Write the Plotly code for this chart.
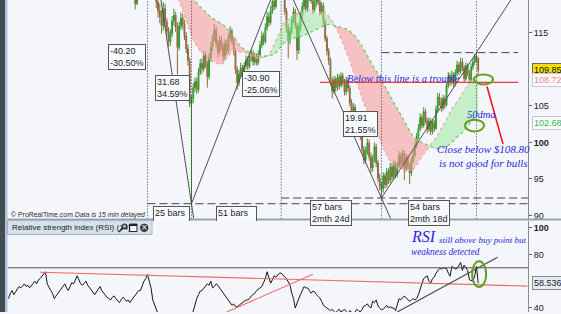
import pandas as pd
import plotly.graph_objects as go

# ---------------- data ----------------
FIRST_CLOSE_BAR = 20      # bar index of closes[0]
FIRST_CANDLE_BAR = 70     # bar index of highs[0] / lows[0]

closes = [
    126.5, 127.2, 128.0, 127.4, 126.8, 127.5, 126.2, 125.8, 126.6, 127.3,
    126.9, 126.1, 127.0, 127.8, 127.2, 126.4, 127.1, 128.0, 128.6, 127.9,
    127.3, 126.8, 127.5, 126.9, 126.2, 125.6, 126.3, 125.4, 124.8, 125.5,
    126.1, 125.3, 124.6, 124.0, 124.7, 123.9, 123.2, 123.8, 124.4, 123.6,
    122.9, 123.5, 122.8, 122.1, 122.7, 121.9, 121.4, 122.0, 121.3, 120.6,
    121.2, 120.4, 119.0, 122.5, 124.3, 125.9, 127.2, 128.8, 130.2, 131.0,
    129.0, 126.4, 123.5, 121.0, 119.2, 118.0, 117.2, 116.0, 118.3, 116.5,
    115.2, 113.8, 114.9, 116.6, 117.4, 115.8, 113.0, 115.9, 117.0, 116.2,
    114.6, 112.8, 111.2, 105.3, 106.0, 107.5, 108.3, 107.2, 109.6, 110.8,
    110.1, 111.9, 110.7, 109.0, 111.6, 113.0, 114.2, 115.4, 113.6, 112.4,
    114.0, 113.1, 111.8, 113.5, 112.6, 114.3, 115.2, 114.0, 112.5, 110.0,
    108.2, 109.4, 110.2, 108.9, 110.5, 111.3, 110.4, 111.6, 112.2, 111.0,
    111.8, 110.9, 112.0, 113.3, 114.6, 113.8, 115.7, 117.2, 116.4, 118.0,
    119.3, 118.6, 120.4, 121.5, 122.2, 121.8, 120.3, 118.0, 115.6, 113.9,
    115.2, 116.8, 117.9, 116.0, 112.6, 115.8, 117.4, 118.6, 119.5, 118.3,
    119.8, 120.6, 119.4, 118.2, 119.0, 120.1, 119.2, 117.9, 118.7, 116.5,
    114.2, 112.5, 111.2, 108.4, 107.0, 108.6, 107.5, 108.9, 107.8, 109.1,
    108.2, 106.9, 108.5, 107.4, 105.4, 104.0, 104.8, 102.6, 101.5, 102.2,
    100.8, 99.0, 97.6, 98.8, 99.9, 98.0, 96.5, 97.8, 99.4, 97.2,
    95.1, 94.0, 93.6, 95.4, 94.2, 96.0, 94.8, 96.6, 95.3, 97.0,
    95.6, 96.8, 98.2, 97.1, 98.5, 96.4, 97.9, 96.7, 95.8, 97.5,
    98.3, 99.6, 100.8, 101.9, 103.4, 102.3, 104.2, 103.0, 101.8, 102.9,
    101.5, 102.7, 101.9, 104.5, 106.2, 105.6, 104.7, 106.0, 105.1, 107.8,
    109.0, 108.2, 109.2, 108.0, 109.5, 110.6, 109.7, 111.0, 110.2, 108.7,
    110.5, 109.4, 108.6, 110.3, 111.0, 111.8, 111.5, 109.85,
]

highs = [
    122.0, 121.8, 120.9, 123.1, 124.9, 126.5, 127.9, 129.4, 130.8, 131.8,
    131.4, 129.6, 126.9, 124.0, 121.7, 120.1, 119.0, 118.1, 119.2, 119.0,
    117.0, 115.8, 115.5, 117.3, 118.3, 117.9, 116.4, 116.5, 117.8, 117.6,
    116.8, 115.1, 113.4, 111.6, 106.4, 108.1, 108.9, 108.8, 110.2, 111.4,
    111.5, 112.5, 112.3, 111.2, 112.2, 113.7, 114.8, 116.2, 115.8, 114.1,
    114.6, 114.5, 113.6, 114.1, 114.0, 114.9, 115.9, 115.6, 114.4, 112.9,
    110.4, 109.9, 110.9, 110.6, 111.0, 111.9, 111.8, 112.1, 112.8, 112.6,
    112.3, 112.2, 112.6, 113.9, 115.2, 115.0, 116.3, 117.9, 117.8, 118.7,
    119.9, 119.8, 120.9, 122.1, 122.9, 123.28, 122.3, 120.8, 118.4, 116.2,
    115.8, 117.3, 118.5, 118.3, 116.4, 116.3, 117.9, 119.2, 120.1, 119.9,
    120.3, 121.2, 121.0, 119.8, 119.6, 120.7, 120.5, 119.6, 119.2, 119.1,
    116.9, 114.6, 112.9, 111.6, 108.9, 109.1, 109.0, 109.4, 109.3, 109.6,
    109.5, 108.7, 109.0, 108.9, 107.8, 105.9, 105.4, 105.2, 103.1, 102.8,
    102.7, 101.3, 99.5, 99.4, 100.5, 100.4, 98.6, 98.3, 100.0, 99.8,
    97.6, 95.7, 94.6, 95.9, 95.8, 96.5, 96.4, 97.2, 97.1, 97.5,
    97.4, 97.3, 98.8, 98.6, 99.0, 98.9, 98.4, 98.3, 97.2, 98.0,
    98.9, 100.1, 101.3, 102.5, 104.0, 103.8, 104.8, 104.6, 103.4, 103.4,
    103.3, 103.2, 103.1, 105.0, 106.8, 106.7, 106.1, 106.5, 106.4, 108.3,
    109.6, 109.5, 109.8, 109.6, 110.0, 111.2, 111.0, 111.6, 111.5, 110.6,
    110.9, 110.8, 109.9, 110.8, 111.5, 112.1, 112.29, 111.7,
]

lows = [
    120.2, 119.9, 118.2, 118.8, 122.1, 123.8, 125.4, 126.8, 128.3, 129.7,
    128.4, 125.8, 122.9, 120.3, 118.4, 117.1, 116.3, 114.9, 115.3, 115.8,
    114.6, 113.1, 113.2, 114.4, 116.0, 115.1, 109.3, 112.6, 115.4, 115.5,
    114.0, 112.2, 110.5, 104.8, 91.6, 105.4, 106.9, 106.6, 106.8, 109.2,
    109.4, 109.7, 110.2, 107.5, 108.6, 111.1, 112.5, 113.8, 113.0, 111.6,
    111.9, 112.6, 111.1, 111.3, 112.0, 112.2, 113.8, 113.4, 111.9, 109.4,
    107.2, 107.7, 108.9, 108.3, 108.5, 110.0, 109.9, 110.1, 111.1, 110.5,
    110.6, 110.5, 110.6, 111.7, 112.9, 113.3, 113.5, 115.3, 115.9, 116.1,
    117.6, 118.1, 118.3, 120.0, 121.1, 121.2, 119.9, 117.5, 115.0, 111.5,
    113.4, 114.8, 116.3, 115.5, 111.3, 112.1, 115.2, 117.0, 118.1, 117.8,
    117.9, 119.3, 119.0, 117.6, 117.8, 118.6, 118.8, 117.4, 117.5, 115.9,
    113.8, 111.9, 110.6, 107.8, 106.0, 106.6, 106.9, 107.1, 107.2, 107.5,
    107.7, 106.4, 106.5, 106.9, 104.9, 103.3, 103.6, 102.0, 100.9, 101.0,
    100.3, 98.5, 97.0, 97.1, 98.3, 97.5, 95.8, 96.0, 97.3, 96.6,
    94.6, 93.4, 92.38, 93.1, 93.7, 93.8, 94.3, 94.4, 94.8, 95.0,
    95.1, 95.2, 96.4, 96.6, 96.8, 94.8, 96.0, 96.2, 94.3, 95.4,
    97.1, 97.9, 99.2, 100.4, 101.5, 101.9, 102.0, 102.6, 101.2, 101.4,
    101.0, 101.1, 101.4, 101.7, 104.1, 105.0, 104.2, 104.3, 104.6, 104.9,
    107.4, 107.7, 107.9, 107.5, 107.7, 109.1, 109.2, 109.4, 109.8, 108.2,
    108.4, 109.0, 108.3, 108.2, 109.9, 110.6, 110.9, 109.3,
]

# RSI(14), one value per bar starting at bar 0
rsi = [
    47, 51, 53, 50, 52, 54, 56, 55, 57, 58,
    56, 57, 55, 57, 59, 60, 58, 61, 62, 64,
    65, 67, 58, 55, 53, 51, 47, 49, 51, 53,
    55, 57, 58, 55, 53, 56, 59, 58, 61, 64,
    61, 58, 57, 59, 60, 57, 55, 53, 52, 50,
    52, 54, 56, 53, 51, 49, 48, 47, 46, 48,
    49, 47, 45, 44, 46, 48, 47, 45, 46, 44,
    46, 48, 49, 51, 53, 53, 57, 60, 62, 65,
    60, 55, 46, 42, 38.5, 34, 32, 30, 33, 31,
    29, 28, 30, 33, 34, 31, 27, 30, 32, 31,
    29, 27, 25, 21, 33, 38, 43, 47, 50, 52.6,
    53, 55, 56, 58, 57, 60, 55, 56, 58, 57,
    55, 53, 51, 49, 47, 45, 44, 42, 43, 41,
    41, 42, 43, 44, 45, 46, 46, 47, 49, 50,
    51, 53, 54, 55, 56, 59, 62, 67, 63, 58.5,
    61, 64, 63, 65, 66, 66, 64, 63, 62, 60,
    57, 51, 47, 40, 44, 47, 50, 53, 56, 55,
    55, 53, 51, 52.6, 52, 50, 49, 47.4, 45, 42,
    41, 40, 39, 38, 39, 37.5, 36, 38, 39, 37,
    38, 39, 37.5, 36, 38, 37, 35, 37, 39, 38,
    37, 39, 41.5, 42, 43, 41, 40, 45, 44, 46,
    41.5, 40, 38.5, 39, 41, 42, 40, 41, 40, 40,
    38, 42, 47, 46, 48, 49, 47.5, 46, 45, 46,
    47, 46, 47, 50, 55, 58, 62, 63, 64, 60,
    58.5, 62, 63, 66, 68, 69.5, 69, 70, 69.6, 69.5,
    66, 63.7, 71, 70, 69, 69.6, 72, 74, 68, 72,
    70, 68, 61, 60.5, 60, 64, 71, 58.536,
]

# swing pivots measured on the chart (bar, price)
pivot_bars = [79, 104, 155, 212, 266]
pivot_prices = [131.8, 91.6, 123.28, 92.38, 112.29]
swing_changes = ["-40.20<br>-30.50%", "31.68<br>34.59%", "-30.90<br>-25.06%", "19.91<br>21.55%"]
swing_lengths = ["25 bars<br>1mth 4d", "51 bars<br>2mth 11d", "57 bars<br>2mth 24d", "54 bars<br>2mth 18d"]

trouble_level = 108.2
last_close = 109.85
ma20_last = 108.72
ma50_last = 102.68
rsi_last = 58.536
rsi_overbought = 70

# hand-drawn RSI trend lines (bar, value)
rsi_falling_line = ([18, 295], [66.7, 56.3])
rsi_short_line = ([124, 173], [37.0, 65.2])
rsi_rising_line = ([221, 278], [37.0, 77.8])

# ---------------- geometry ----------------
W, H = 561, 314
PL, PR = 8, 528
PRICE_BOTTOM_PX = 220
RSI_TOP_PX = 222
X_RANGE = [-0.3, 295.3]
PRICE_RANGE = [89.56, 119.49]
RSI_RANGE = [37.0, 105.2]


def pxx(x):
    return (x - PL) / (PR - PL)


def pxy(y):
    return 1 - y / H


BG = "#f4f6fc"
BLUE_TXT = "#2828e0"
RING = "#62a020"

fig = go.Figure()

# ---------------- moving-average cloud ----------------
close_s = pd.Series(closes, index=range(FIRST_CLOSE_BAR, FIRST_CLOSE_BAR + len(closes)))
ma = pd.DataFrame({"fast": close_s.rolling(20).mean(), "slow": close_s.rolling(50).mean()}).dropna()
ma_lo = ma[["fast", "slow"]].min(axis=1)
ma_hi = ma[["fast", "slow"]].max(axis=1)
nofill = dict(width=0, color="rgba(0,0,0,0)")

fig.add_trace(go.Scatter(x=ma.index, y=ma["slow"], mode="lines", line=nofill, hoverinfo="skip"))
fig.add_trace(go.Scatter(x=ma.index, y=ma_lo, mode="lines", line=nofill, fill="tonexty",
                         fillcolor="rgba(247,150,145,0.55)", hoverinfo="skip"))
fig.add_trace(go.Scatter(x=ma.index, y=ma["slow"], mode="lines", line=nofill, hoverinfo="skip"))
fig.add_trace(go.Scatter(x=ma.index, y=ma_hi, mode="lines", line=nofill, fill="tonexty",
                         fillcolor="rgba(150,232,150,0.5)", hoverinfo="skip"))
fig.add_trace(go.Scatter(x=ma.index, y=ma["fast"], mode="lines",
                         line=dict(color="#f3a3a3", width=1.2, dash="dot"), hoverinfo="skip"))
fig.add_trace(go.Scatter(x=ma.index, y=ma["slow"], mode="lines",
                         line=dict(color="#6fd05f", width=1.3, dash="dot"), hoverinfo="skip"))

# ---------------- swing zig-zag lines ----------------
def extend(b0, p0, b1, p1, to_price):
    slope = (p1 - p0) / (b1 - b0)
    return b1 + (to_price - p1) / slope


zz_x, zz_y = [], []
for i in range(len(pivot_bars) - 1):
    b0, p0, b1, p1 = pivot_bars[i], pivot_prices[i], pivot_bars[i + 1], pivot_prices[i + 1]
    end_price = 80 if p1 < p0 else 130
    if i == 1:
        xs, ys = [b0, b1], [p0, p1]
    else:
        xs, ys = [b0, extend(b0, p0, b1, p1, end_price)], [p0, end_price]
    zz_x += xs + [None]
    zz_y += ys + [None]
fig.add_trace(go.Scatter(x=zz_x, y=zz_y, mode="lines", line=dict(color="#505050", width=1),
                         hoverinfo="skip"))

# ---------------- candles ----------------
cbars = list(range(FIRST_CANDLE_BAR, FIRST_CANDLE_BAR + len(highs)))
c_close = close_s.loc[cbars]
c_open = close_s.shift(1).loc[cbars]
fig.add_trace(go.Candlestick(
    x=cbars, open=c_open, high=highs, low=lows, close=c_close,
    increasing=dict(line=dict(color="#2f9a2f", width=1), fillcolor="#37a837"),
    decreasing=dict(line=dict(color="#8e6a3a", width=1), fillcolor="#9c7642"),
    whiskerwidth=0, hoverinfo="skip",
))

# ---------------- RSI ----------------
fig.add_trace(go.Scatter(x=list(range(len(rsi))), y=rsi, mode="lines", xaxis="x2", yaxis="y2",
                         line=dict(color="#151515", width=1), hoverinfo="skip"))
fig.add_trace(go.Scatter(x=list(X_RANGE), y=[rsi_overbought] * 2, mode="lines", xaxis="x2", yaxis="y2",
                         line=dict(color="#555", width=1), hoverinfo="skip"))
for (lx, ly), col in [(rsi_falling_line, "#f06a6a"), (rsi_short_line, "#f06a6a"), (rsi_rising_line, "#444")]:
    fig.add_trace(go.Scatter(x=lx, y=ly, mode="lines", xaxis="x2", yaxis="y2",
                             line=dict(color=col, width=1.1), hoverinfo="skip"))

# ---------------- shapes ----------------
shapes = []
# window frame on the left
shapes.append(dict(type="rect", xref="paper", yref="paper", x0=pxx(0), x1=pxx(5), y0=0, y1=1,
                   fillcolor="#434b53", line=dict(width=0), layer="above"))
shapes.append(dict(type="rect", xref="paper", yref="paper", x0=pxx(5), x1=pxx(7.5), y0=0, y1=1,
                   fillcolor="#a9c5de", line=dict(width=0), layer="above"))
# panel separator
shapes.append(dict(type="line", xref="paper", yref="paper", x0=pxx(7.5), x1=1.07,
                   y0=pxy(221), y1=pxy(221), line=dict(color="#9aa3ad", width=2)))
# vertical measurement markers
for b in pivot_bars:
    shapes.append(dict(type="line", xref="x", yref="y", x0=b, x1=b, y0=PRICE_RANGE[0], y1=PRICE_RANGE[1],
                       line=dict(color="#333", width=1, dash="1px,2px")))
# horizontal measurement levels
shapes.append(dict(type="line", xref="x", yref="y", x0=pivot_bars[0], x1=X_RANGE[1],
                   y0=pivot_prices[1], y1=pivot_prices[1], line=dict(color="#444", width=1, dash="8px,4px")))
shapes.append(dict(type="line", xref="x", yref="y", x0=pivot_bars[2], x1=X_RANGE[1],
                   y0=pivot_prices[3], y1=pivot_prices[3], line=dict(color="#444", width=1, dash="8px,4px")))
shapes.append(dict(type="line", xref="x", yref="y", x0=pivot_bars[3], x1=289.7,
                   y0=pivot_prices[4], y1=pivot_prices[4], line=dict(color="#444", width=1, dash="8px,4px")))
# support line
shapes.append(dict(type="line", xref="x", yref="y", x0=177, x1=289.7, y0=trouble_level, y1=trouble_level,
                   line=dict(color="#f03a3a", width=1.2)))
# rings
shapes.append(dict(type="circle", xref="x", yref="y", x0=264.6, x1=275.4, y0=107.93, y1=109.29,
                   line=dict(color=RING, width=2)))
shapes.append(dict(type="circle", xref="x", yref="y", x0=259.5, x1=270.3, y0=101.5, y1=103.1,
                   line=dict(color=RING, width=2)))
shapes.append(dict(type="circle", xref="x2", yref="y2", x0=263.5, x1=271.5, y0=55.6, y1=74.8,
                   line=dict(color=RING, width=2)))
# red pointer
shapes.append(dict(type="line", xref="x", yref="y", x0=281.1, x1=272.0, y0=99.76, y1=107.65,
                   line=dict(color="#f01818", width=1.6)))
# RSI header strip
shapes.append(dict(type="rect", xref="paper", yref="paper", x0=pxx(7.5), x1=pxx(152), y0=pxy(236), y1=pxy(222),
                   fillcolor="#d6e1ee", line=dict(color="#a4b4c6", width=1)))
# header icons: wrench, window, close
shapes.append(dict(type="line", xref="paper", yref="paper", x0=pxx(119), x1=pxx(124.5), y0=pxy(233.5), y1=pxy(227.5),
                   line=dict(color="#333", width=1.6)))
shapes.append(dict(type="circle", xref="paper", yref="paper", x0=pxx(122.5), x1=pxx(127), y0=pxy(230), y1=pxy(225.5),
                   line=dict(color="#333", width=1.2), fillcolor="#d6e1ee"))
shapes.append(dict(type="rect", xref="paper", yref="paper", x0=pxx(129.5), x1=pxx(137), y0=pxy(233), y1=pxy(225.5),
                   line=dict(color="#222", width=1), fillcolor="#ffffff"))
shapes.append(dict(type="rect", xref="paper", yref="paper", x0=pxx(129.5), x1=pxx(137), y0=pxy(227.5), y1=pxy(225.5),
                   line=dict(width=0), fillcolor="#222"))
shapes.append(dict(type="circle", xref="paper", yref="paper", x0=pxx(140.5), x1=pxx(148), y0=pxy(233), y1=pxy(225.5),
                   line=dict(color="#333", width=1), fillcolor="#3a3a3a"))

# ---------------- annotations ----------------
ann = []
box = dict(showarrow=False, bgcolor="#f8faff", bordercolor="#555", borderwidth=1, borderpad=1,
           font=dict(family="Liberation Sans, Arial", size=9, color="#1e1e1e"), align="left")

change_pos = [(78.4, 111.73), (103.3, 107.5), (154.1, 108.0), (210.3, 102.5)]
for txt, (bx, by) in zip(swing_changes, change_pos):
    ann.append(dict(text=txt, x=bx, y=by, xref="x", yref="y", xanchor="right", yanchor="middle", **box))

for i, txt in enumerate(swing_lengths):
    mid = (pivot_bars[i] + pivot_bars[i + 1]) / 2
    level = min(pivot_prices[i], pivot_prices[i + 1]) if i < 2 else pivot_prices[3]
    ann.append(dict(text=txt, x=mid + (1.2 if i == 0 else 0), y=level - 0.27, xref="x", yref="y",
                    xanchor="center", yanchor="top", **box))

# RSI panel background band that the lower bar-count boxes run into
ann.append(dict(text=" ", xref="paper", yref="paper", x=pxx(153), y=pxy(222), xanchor="left", yanchor="top",
                width=112, height=16, bgcolor=BG, borderwidth=0, borderpad=0, showarrow=False))

ann.append(dict(text="Relative strength index (RSI) (14)", xref="paper", yref="paper", x=pxx(10), y=pxy(229),
                xanchor="left", yanchor="middle", showarrow=False,
                font=dict(family="Liberation Sans, Arial", size=8, color="#1c1c1c")))
ann.append(dict(text="×", xref="paper", yref="paper", x=pxx(144.3), y=pxy(229.3), xanchor="center",
                yanchor="middle", showarrow=False, font=dict(family="DejaVu Sans", size=8, color="#ffffff")))
ann.append(dict(text="© ProRealTime.com <i>Data is 15 min delayed</i>", xref="paper", yref="paper",
                x=pxx(9), y=pxy(216), xanchor="left", yanchor="middle", showarrow=False,
                font=dict(family="Liberation Sans, Arial", size=6.9, color="#2a2a2a")))

script = dict(family="Liberation Serif, serif", color=BLUE_TXT)
ann.append(dict(text="<i>Below this line is a trouble</i>", xref="paper", yref="paper", x=pxx(345), y=pxy(78.5),
                xanchor="left", yanchor="middle", showarrow=False, font={**script, "size": 10.5}))
ann.append(dict(text="<i>50dma</i>", xref="paper", yref="paper", x=pxx(481), y=pxy(115.5),
                xanchor="center", yanchor="middle", showarrow=False, font={**script, "size": 10.5}))
ann.append(dict(text="<i>Close below $108.80<br>is not good for bulls</i>", xref="paper", yref="paper",
                x=pxx(483), y=pxy(157.5), xanchor="center", yanchor="middle", showarrow=False,
                font={**script, "size": 11}))
ann.append(dict(text="<i>RSI</i>", xref="paper", yref="paper", x=pxx(409), y=pxy(238.5),
                xanchor="left", yanchor="middle", showarrow=False, font={**script, "size": 16}))
ann.append(dict(text="<i>still above buy point but</i>", xref="paper", yref="paper", x=pxx(437), y=pxy(241.5),
                xanchor="left", yanchor="middle", showarrow=False, font={**script, "size": 9}))
ann.append(dict(text="<i>weakness detected</i>", xref="paper", yref="paper", x=pxx(409), y=pxy(253.5),
                xanchor="left", yanchor="middle", showarrow=False, font={**script, "size": 9.3}))

# value flags on the price scale
flag = dict(xref="paper", x=pxx(531.5), xanchor="left", yanchor="middle", showarrow=False, borderwidth=1,
            borderpad=1)
ann.append(dict(text="109.85", yref="y", y=last_close, bgcolor="#f3e000", bordercolor="#666",
                font=dict(family="Liberation Sans, Arial", size=9, color="#111"), **flag))
ann.append(dict(text="108.72", yref="y", y=ma20_last, yshift=-1.5, bgcolor="#fafbff", bordercolor="#c8c8d0",
                font=dict(family="Liberation Sans, Arial", size=9, color="#f08a8a"), **flag))
ann.append(dict(text="102.68", yref="y", y=ma50_last, bgcolor="#fafbff", bordercolor="#c8c8d0",
                font=dict(family="Liberation Sans, Arial", size=9, color="#3cb44a"), **flag))
ann.append(dict(text="58.536", yref="y2", y=rsi_last, bgcolor="#e6ecf5", bordercolor="#8a8a8a",
                font=dict(family="Liberation Sans, Arial", size=9, color="#1e1e1e"), **flag))

axis_font = dict(family="Liberation Sans, Arial", size=9, color="#222")
fig.update_layout(
    width=W, height=H, autosize=False,
    margin=dict(l=PL, r=W - PR, t=0, b=0),
    paper_bgcolor=BG, plot_bgcolor=BG,
    showlegend=False,
    xaxis=dict(domain=[0, 1], range=X_RANGE, anchor="y", visible=False, rangeslider=dict(visible=False),
               fixedrange=True),
    xaxis2=dict(domain=[0, 1], range=X_RANGE, anchor="y2", visible=False, fixedrange=True),
    yaxis=dict(domain=[1 - PRICE_BOTTOM_PX / H, 1], range=PRICE_RANGE, side="right", anchor="x",
               tickvals=[90, 95, 100, 105, 115], ticktext=["90", "95", "<b>100</b>", "105", "115"],
               ticks="outside", ticklen=3, tickcolor="#666", showgrid=False, zeroline=False,
               showline=True, linecolor="#8c8c8c", tickfont=axis_font),
    yaxis2=dict(domain=[0, 1 - RSI_TOP_PX / H], range=RSI_RANGE, side="right", anchor="x2",
                tickvals=[40, 80, 100], ticktext=["40", "80", "<b>100</b>"],
                ticks="outside", ticklen=3, tickcolor="#666", showgrid=False, zeroline=False,
                showline=True, linecolor="#8c8c8c", tickfont=axis_font),
    shapes=shapes,
    annotations=ann,
)

fig.write_html("out.html")
